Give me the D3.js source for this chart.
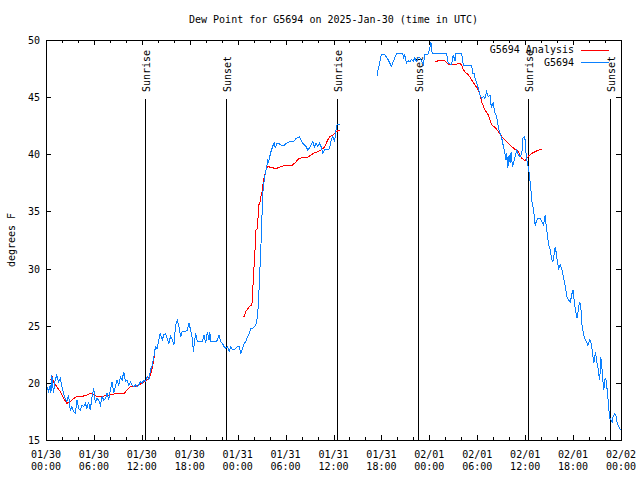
<!DOCTYPE html>
<html>
<head>
<meta charset="utf-8">
<script src="https://cdn.jsdelivr.net/npm/d3@7"></script>
<style>
  html, body { margin: 0; padding: 0; background: #fff; }
  svg { display: block; }
  text { font-family: "DejaVu Sans Mono", monospace; font-size: 10px; fill: #000; }
</style>
</head>
<body>
<svg id="chart" width="640" height="480"></svg>
<script>
// ---- Data (time = hours since 2025-01-30 00:00 UTC, value = dew point in °F) ----
const titleText = "Dew Point for G5694 on 2025-Jan-30 (time in UTC)";
const yLabelText = "degrees F";
const startUTC = Date.UTC(2025, 0, 30, 0, 0);
const endUTC = Date.UTC(2025, 1, 2, 0, 0);
const yTicks = [15, 20, 25, 30, 35, 40, 45, 50];
const seriesNames = ["G5694 Analysis", "G5694"];
const sunriseHours = [12.45, 36.4, 60.4];
const sunsetHours = [22.5, 46.55, 70.6];

// observed station series, segment 1
const obsSeg1 = [
 [0.10,19.67],[0.31,19.23],[0.52,19.81],[0.61,19.08],[0.73,20.69],[0.94,19.08],[1.15,20.25],[1.36,20.69],[1.57,20.10],[1.78,20.40],
 [1.99,19.67],[2.20,19.08],[2.41,18.64],[2.62,18.35],[2.83,18.94],[3.04,17.62],[3.25,17.92],[3.46,17.48],[3.67,17.33],[3.88,18.50],
 [4.08,17.77],[4.29,17.62],[4.50,18.06],[4.71,17.92],[4.92,18.21],[5.13,17.77],[5.34,18.35],[5.55,17.62],[5.76,18.79],[5.97,19.52],
 [6.18,18.21],[6.39,18.64],[6.60,18.50],[6.81,18.06],[7.02,18.79],[7.23,18.50],[7.44,18.64],[7.65,19.08],[7.85,18.50],[8.06,19.38],
 [8.27,20.10],[8.48,19.08],[8.69,19.67],[8.90,20.25],[9.11,19.81],[9.32,20.54],[9.53,20.25],[9.74,20.98],[9.95,20.10],[10.16,20.25],
 [10.37,19.81],[10.58,20.10],[10.79,19.81],[11.00,19.67],[11.21,19.81],[11.42,19.67],[11.62,19.81],[11.83,20.10],[12.04,19.96],[12.25,20.25],
 [12.46,20.10],[12.67,20.54],[12.88,20.25],[13.09,21.13],[13.30,21.56],[13.51,22.30],[13.71,23.17],[13.92,23.00],[14.13,23.75],[14.22,24.19],
 [14.34,24.27],[14.55,23.75],[14.76,24.20],[14.97,24.33],[15.18,23.90],[15.39,23.46],[15.60,24.10],[15.81,23.75],[16.02,23.31],[16.23,25.06],
 [16.44,25.50],[16.65,24.92],[16.86,24.04],[17.06,24.48],[17.48,24.48],[17.69,24.62],[17.90,25.21],[18.11,24.62],[18.32,23.90],[18.45,22.73],
 [18.62,23.75],[18.74,24.33],[18.95,23.60],[19.58,23.60],[19.79,24.19],[20.00,23.46],[20.21,24.48],[20.42,23.75],[20.50,24.48],[20.63,23.60],
 [21.25,23.60],[21.46,23.75],[21.67,24.19],[21.88,23.60],[22.09,23.46],[22.30,23.17],[22.51,23.02],[22.72,23.17],[22.93,22.73],[23.14,23.17],
 [23.35,22.88],[23.56,22.88],[23.77,23.02],[23.98,23.17],[24.19,23.17],[24.40,22.58],[24.61,23.02],[24.81,23.46],[25.02,23.60],[25.23,24.04],
 [25.44,24.33],[25.65,24.77],[25.86,24.77],[26.07,24.92],[26.28,25.06],[26.49,25.79],[26.62,27.25],[26.78,29.87],[26.91,31.92],[27.04,34.54],
 [27.12,36.00],[27.20,37.17],[27.33,37.75],[27.45,38.33],[27.62,38.77],[27.75,39.50],[27.87,39.35],[27.96,39.65],[28.17,40.23],[28.38,40.67],
 [28.59,41.10],[28.71,40.52],[28.88,40.96],[29.13,40.96],[29.42,40.81],[29.84,40.81],[30.05,40.96],[30.47,41.10],[30.89,41.10],[31.10,41.19],
 [31.31,41.40],[31.73,41.54],[31.94,41.25],[32.15,40.96],[32.35,40.81],[32.56,40.67],[32.77,40.38],[32.98,40.52],[33.19,40.81],[33.40,41.10],
 [33.61,40.67],[33.82,40.96],[34.03,40.67],[34.24,40.96],[34.45,40.67],[34.66,40.08],[34.87,40.38],[35.08,40.38],[35.29,40.38],[35.50,40.52],
 [35.71,41.25],[35.92,41.54],[36.13,41.10],[36.25,41.83],[36.42,42.56],[36.75,42.65]
];
// observed station series, segment 2
const obsSeg2 = [
 [41.45,46.82],[41.57,47.40],[41.78,47.99],[41.99,48.72],[42.41,48.72],[42.83,48.28],[43.25,47.70],[43.67,48.43],[43.96,48.86],[44.63,48.86],
 [44.80,48.43],[44.92,48.72],[45.13,47.99],[45.34,48.20],[45.55,48.07],[45.76,48.28],[45.97,48.13],[46.18,48.43],[46.39,48.13],[46.60,48.43],
 [46.81,48.43],[47.02,48.13],[47.23,47.84],[47.44,48.72],[47.86,48.78],[48.07,49.30],[48.19,49.82],[48.36,48.78],[50.16,48.78],[50.37,47.99],
 [50.58,47.90],[50.79,47.84],[51.00,48.72],[51.21,48.13],[51.33,48.78],[52.05,48.78],[52.26,47.81],[53.30,47.81],[53.42,47.08],[53.60,47.08],
 [53.72,46.65],[53.93,46.21],[54.13,45.77],[54.34,45.19],[54.55,44.90],[54.76,45.05],[54.97,44.90],[55.18,45.48],[55.39,45.05],[55.60,45.19],
 [55.68,44.46],[55.81,44.17],[56.02,44.60],[56.14,43.73],[56.23,43.60],[56.44,43.29],[56.56,42.71],[56.73,42.12],[56.86,41.83],[57.07,41.40],
 [57.28,40.67],[57.49,39.94],[57.61,39.50],[57.70,40.08],[57.82,38.77],[57.99,39.94],[58.12,39.21],[58.24,40.23],[58.41,38.92],[58.53,39.21],
 [58.74,39.79],[58.95,40.37],[59.16,39.94],[59.37,39.79],[59.58,40.08],[59.71,41.40],[59.87,41.54],[60.00,41.25],[60.12,39.94],[60.21,39.50],
 [60.33,39.00],[60.42,38.90],[60.55,38.04],[60.71,37.02],[60.84,35.85],[60.97,35.42],[61.05,35.27],[61.17,34.25],[61.26,33.72],[61.38,34.10],
 [61.55,34.40],[61.89,34.40],[62.10,34.10],[62.31,33.81],[62.43,34.40],[62.52,34.69],[62.64,33.67],[62.81,32.79],[62.93,32.06],[63.14,31.62],
 [63.35,30.75],[63.48,30.60],[63.65,31.33],[63.77,31.92],[63.90,31.33],[64.06,30.46],[64.19,30.02],[64.40,30.31],[64.61,29.87],[64.82,29.14],
 [65.03,28.40],[65.24,27.54],[65.45,27.25],[65.66,27.10],[65.87,27.83],[65.99,28.13],[66.08,27.54],[66.29,26.38],[66.50,25.65],[66.71,26.67],
 [66.83,27.10],[67.00,26.38],[67.13,24.92],[67.25,24.48],[67.42,23.90],[67.67,23.60],[67.84,23.31],[68.09,23.75],[68.26,23.46],[68.38,22.88],
 [68.51,22.15],[68.59,21.71],[68.80,22.73],[68.93,22.00],[69.10,21.42],[69.22,20.69],[69.35,20.25],[69.43,22.15],[69.55,22.00],[69.68,20.54],
 [69.85,19.38],[69.97,20.25],[70.10,20.40],[70.27,19.38],[70.39,18.50],[70.48,17.63],[70.60,16.90],[70.77,16.75],[70.90,16.60],[71.02,17.10],
 [71.19,17.27],[71.36,17.19],[71.53,16.46],[71.74,16.17],[71.95,15.88]
];
// analysis series segments
const anaSeg1 = [
 [0.61,20.25],[0.73,20.69],[0.94,20.10],[1.36,19.67],[1.78,19.23],[2.20,18.64],[2.62,18.21],[3.04,18.35],[3.46,18.64],[3.88,18.79],
 [4.71,18.85],[5.13,18.94],[5.55,19.08],[5.97,18.94],[6.39,18.79],[7.23,18.85],[8.06,18.94],[8.90,19.08],[9.74,19.03],[10.16,19.38],
 [10.58,19.67],[11.42,19.73],[11.83,19.90],[12.25,20.10],[12.67,20.25],[13.09,20.69],[13.30,21.27],[13.51,22.14],[13.65,22.70]
];
const anaSeg2 = [
 [24.61,25.73],[24.81,25.79],[25.02,26.23],[25.44,26.67],[25.78,26.81],[25.86,27.54],[25.95,29.00],[26.07,30.46],[26.20,31.92],[26.28,33.38],
 [26.49,33.52],[26.62,35.56],[26.78,35.71],[26.91,36.29],[27.12,36.88],[27.20,37.60],[27.33,38.04],[27.54,38.63],[27.75,38.92],[28.17,38.86],
 [28.79,38.74],[29.21,38.86],[29.63,38.97],[30.26,39.03],[30.89,39.06],[31.31,39.35],[31.73,39.65],[32.15,39.70],[32.77,39.73],[33.19,39.94],
 [33.61,40.14],[34.03,40.23],[34.45,40.38],[34.66,40.52],[34.87,40.60],[35.08,40.96],[35.29,41.25],[35.50,41.54],[35.92,41.69],[36.34,41.98],
 [36.75,42.12]
];
const anaSeg3 = [
 [48.69,48.07],[49.11,48.19],[49.95,48.19],[50.16,47.99],[50.58,47.84],[51.00,47.84],[51.42,47.90],[51.83,47.93],[52.05,47.81],[52.26,47.40],
 [52.59,47.11],[52.89,46.97],[53.30,46.50],[53.72,46.06],[54.13,45.63],[54.34,45.19],[54.55,44.60],[54.97,43.87],[55.39,43.44],[55.81,42.56],
 [56.23,42.36],[56.65,41.98],[57.07,41.54],[57.49,41.25],[57.90,40.96],[58.32,40.67],[58.74,40.43],[59.16,40.23],[59.58,39.64],[60.00,39.44],
 [60.42,39.85],[60.84,40.08],[61.26,40.23],[61.67,40.37],[62.09,40.43]
];

// ---- Drawing ----
const colors = { analysis: "#ff0000", obs: "#0a80ff" };
const plot = { left: 46, right: 621, top: 40, bottom: 440 };
const svg = d3.select("#chart");
const toDate = h => new Date(startUTC + h * 3600000);

const x = d3.scaleUtc().domain([new Date(startUTC), new Date(endUTC)]).range([plot.left, plot.right]);
const y = d3.scaleLinear().domain([15, 50]).range([plot.bottom, plot.top]);

// title
svg.append("text").attr("x", (plot.left + plot.right) / 2).attr("y", 23)
  .attr("text-anchor", "middle").text(titleText);

// y label
svg.append("text").attr("transform", `translate(15,${(plot.top + plot.bottom) / 2}) rotate(-90)`)
  .attr("text-anchor", "middle").text(yLabelText);

const majorX = x.ticks(d3.utcHour.every(6));
const minorX = x.ticks(d3.utcHour.every(2));

function styleAxis(g) {
  g.select(".domain").remove();
  g.selectAll(".tick line").attr("stroke", "#000").attr("shape-rendering", "crispEdges");
  g.selectAll("text").attr("font-family", "DejaVu Sans Mono, monospace").attr("font-size", 10).attr("fill", "#000");
  g.attr("font-family", null).attr("font-size", null);
}

// x axes (bottom/top), inward ticks
svg.append("g").attr("transform", `translate(0,${plot.bottom})`)
  .call(d3.axisBottom(x).tickValues(minorX).tickSize(-3).tickFormat("")).call(styleAxis);
svg.append("g").attr("transform", `translate(0,${plot.bottom})`)
  .call(d3.axisBottom(x).tickValues(majorX).tickSize(-5).tickFormat("")).call(styleAxis);
svg.append("g").attr("transform", `translate(0,${plot.top})`)
  .call(d3.axisTop(x).tickValues(minorX).tickSize(-3).tickFormat("")).call(styleAxis);
svg.append("g").attr("transform", `translate(0,${plot.top})`)
  .call(d3.axisTop(x).tickValues(majorX).tickSize(-5).tickFormat("")).call(styleAxis);

// x labels (two lines)
const fmtDate = d3.utcFormat("%m/%d");
const fmtTime = d3.utcFormat("%H:%M");
const xl = svg.append("g");
majorX.forEach(d => {
  const t = xl.append("text").attr("text-anchor", "middle");
  t.append("tspan").attr("x", x(d)).attr("y", 458).text(fmtDate(d));
  t.append("tspan").attr("x", x(d)).attr("y", 470).text(fmtTime(d));
});

// y axes
svg.append("g").attr("transform", `translate(${plot.left},0)`)
  .call(d3.axisLeft(y).tickValues(yTicks).tickSize(-5).tickPadding(6).tickFormat(d3.format("d"))).call(styleAxis)
  .selectAll("text").attr("dy", "0.35em");
svg.append("g").attr("transform", `translate(${plot.right},0)`)
  .call(d3.axisRight(y).tickValues(yTicks).tickSize(-5).tickFormat("")).call(styleAxis);

// frame
svg.append("rect").attr("x", plot.left).attr("y", plot.top)
  .attr("width", plot.right - plot.left).attr("height", plot.bottom - plot.top)
  .attr("fill", "none").attr("stroke", "#000").attr("shape-rendering", "crispEdges");

// sunrise / sunset markers
const markers = sunriseHours.map(h => ({ h, label: "Sunrise" }))
  .concat(sunsetHours.map(h => ({ h, label: "Sunset" })));
markers.forEach(m => {
  const xm = Math.round(x(toDate(m.h))) + 0.5;
  svg.append("line").attr("x1", xm).attr("x2", xm).attr("y1", 99).attr("y2", plot.bottom)
    .attr("stroke", "#000").attr("shape-rendering", "crispEdges");
  svg.append("text").attr("transform", `translate(${xm + 4},92) rotate(-90)`)
    .attr("text-anchor", "start").text(m.label);
});

// data lines
const line = d3.line().x(d => x(toDate(d[0]))).y(d => y(d[1]));
[anaSeg1, anaSeg2, anaSeg3].forEach(seg => {
  svg.append("path").datum(seg).attr("d", line).attr("fill", "none")
    .attr("stroke", colors.analysis).attr("stroke-width", 1).attr("shape-rendering", "crispEdges");
});
[obsSeg1, obsSeg2].forEach(seg => {
  svg.append("path").datum(seg).attr("d", line).attr("fill", "none")
    .attr("stroke", colors.obs).attr("stroke-width", 1).attr("shape-rendering", "crispEdges");
});

// legend
const legend = [
  { name: seriesNames[0], color: colors.analysis, y: 49.5 },
  { name: seriesNames[1], color: colors.obs, y: 62 }
];
legend.forEach(l => {
  svg.append("text").attr("x", 574).attr("y", l.y).attr("dy", "0.35em")
    .attr("text-anchor", "end").text(l.name);
  svg.append("line").attr("x1", 581).attr("x2", 609).attr("y1", Math.round(l.y) + 0.5).attr("y2", Math.round(l.y) + 0.5)
    .attr("stroke", l.color).attr("stroke-width", 1).attr("shape-rendering", "crispEdges");
});
</script>
</body>
</html>
